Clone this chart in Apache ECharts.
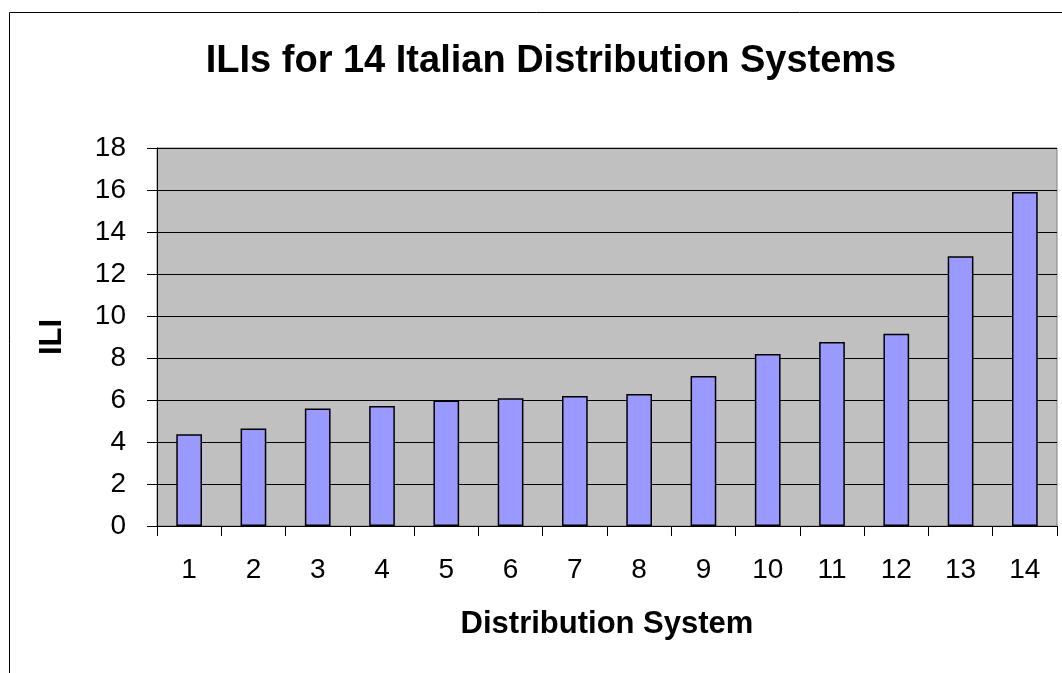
<!DOCTYPE html>
<html><head><meta charset="utf-8">
<script src="https://cdn.jsdelivr.net/npm/echarts@6/dist/echarts.min.js"></script>
<style>html,body{margin:0;padding:0;background:#fff}#c{width:1062px;height:673px}</style>
</head><body><div id="c"></div>
<script>
const categories = ['1','2','3','4','5','6','7','8','9','10','11','12','13','14'];
const iliValues = [4.37, 4.64, 5.6, 5.71, 5.98, 6.08, 6.19, 6.29, 7.14, 8.19, 8.76, 9.15, 12.85, 15.9];
const titleText = 'ILIs for 14 Italian Distribution Systems';
const xName = 'Distribution System';
const yName = 'ILI';

const chart = echarts.init(document.getElementById('c'), null, {renderer:'canvas'});
chart.setOption({
  animation:false,
  backgroundColor:'#fff',
  graphic:[{type:'rect', shape:{x:9.5,y:12.5,width:1100,height:700}, style:{fill:null, stroke:'#000', lineWidth:1}, z:-1}],
  title:{text:titleText, left:546, top:38, textAlign:'center',
    textStyle:{fontFamily:'Liberation Sans, Arial', fontWeight:'bold', fontSize:38, color:'#000'}},
  grid:{left:157, top:148, width:900, height:378, show:true, backgroundColor:'#C0C0C0', borderColor:'#808080', borderWidth:1},
  xAxis:{type:'category', data:categories,
    name:xName, nameLocation:'middle', nameGap:83,
    nameTextStyle:{fontFamily:'Liberation Sans, Arial', fontWeight:'bold', fontSize:31, color:'#000'},
    axisLine:{lineStyle:{color:'#000', width:1}},
    axisTick:{show:true, length:10, inside:false, alignWithLabel:false, lineStyle:{color:'#000'}},
    axisLabel:{fontFamily:'Liberation Sans, Arial', fontSize:28, color:'#000', margin:30}},
  yAxis:{type:'value', min:0, max:18, interval:2,
    name:yName, nameLocation:'middle', nameGap:89, nameRotate:90,
    nameTextStyle:{fontFamily:'Liberation Sans, Arial', fontWeight:'bold', fontSize:31, color:'#000'},
    axisLine:{show:true, lineStyle:{color:'#000', width:1}},
    axisTick:{show:true, length:10, lineStyle:{color:'#000'}},
    axisLabel:{fontFamily:'Liberation Sans, Arial', fontSize:28, color:'#000', margin:31},
    splitLine:{show:true, lineStyle:{color:'#000', width:1}}},
  series:[{type:'bar', data:iliValues, barWidth:'40%',
    itemStyle:{color:'#9999FF', borderColor:'#000', borderWidth:1.5}}]
});
</script></body></html>
